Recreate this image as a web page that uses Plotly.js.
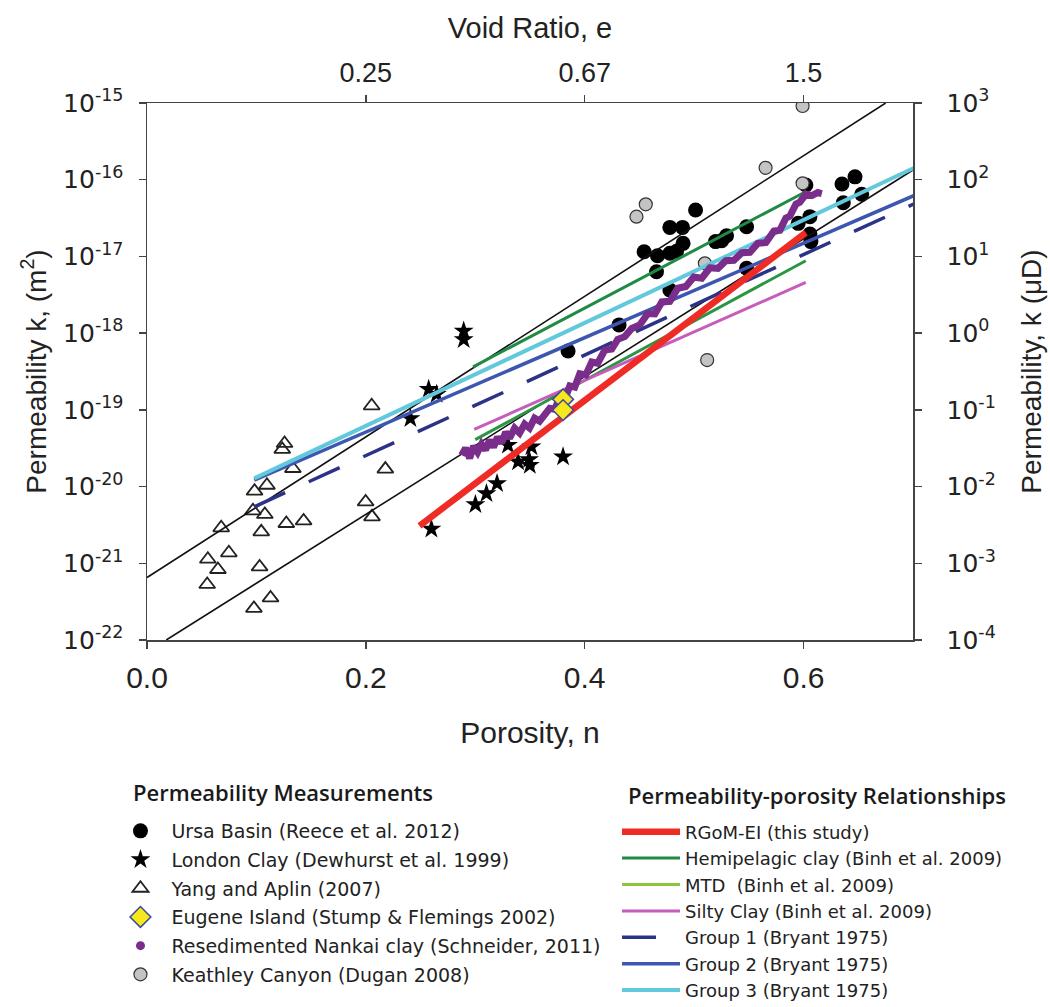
<!DOCTYPE html>
<html>
<head>
<meta charset="utf-8">
<script src="https://cdn.plot.ly/plotly-3.0.1.min.js"></script>
<style>html,body{margin:0;padding:0;background:#fff;}#chart{width:1050px;height:1007px;}</style>
</head>
<body>
<div id="chart"></div>
<script>
// ---------- Data (porosity n, permeability k in m^2) ----------
const ursaN = [0.3848,0.4314,0.4543,0.4665,0.4656,0.4778,0.4778,0.4894,0.4778,0.4839,0.4899,0.5013,0.5196,0.5251,0.5296,0.5479,0.5479,0.5951,0.6058,0.6058,0.6067,0.6351,0.6470,0.6363,0.6531,0.6021];
const ursaK = [5.85e-19,1.28e-18,1.15e-17,1.02e-17,6.32e-18,3.65e-18,2.39e-17,2.39e-17,1.10e-17,1.17e-17,1.48e-17,4.03e-17,1.56e-17,1.60e-17,1.86e-17,2.44e-17,7.00e-18,2.70e-17,3.30e-17,1.96e-17,1.56e-17,8.79e-17,1.09e-16,5.01e-17,6.45e-17,8.53e-17];

const londonN = [0.2894,0.2894,0.2574,0.2647,0.2407,0.2599,0.3001,0.3102,0.3199,0.3299,0.3391,0.3491,0.3498,0.3513,0.3802];
const londonK = [1.07e-18,8.28e-19,1.86e-19,1.60e-19,7.73e-20,2.79e-21,5.85e-21,8.13e-21,1.10e-20,3.47e-20,2.10e-20,2.26e-20,1.90e-20,3.30e-20,2.44e-20];

const yangN = [0.0678,0.0556,0.0748,0.0648,0.0550,0.0983,0.1096,0.0968,0.1077,0.1044,0.1273,0.1431,0.1029,0.1129,0.0977,0.1257,0.1236,0.1333,0.2053,0.2178,0.1998,0.2056];
const yangK = [2.90e-21,1.13e-21,1.37e-21,8.30e-22,5.30e-22,8.71e-21,1.04e-20,4.83e-21,4.33e-21,2.57e-21,3.30e-21,3.57e-21,8.97e-22,3.54e-22,2.58e-22,3.65e-20,3.05e-20,1.72e-20,1.13e-19,1.69e-20,6.32e-21,4.03e-21];

const eugeneN = [0.3802,0.3802];
const eugeneK = [1.37e-19,9.93e-20];

const nankaiN = [0.2875,0.2911,0.2949,0.2984,0.3021,0.3057,0.3094,0.3130,0.3167,0.3203,0.3240,0.3277,0.3313,0.3359,0.3405,0.3451,0.3496,0.3542,0.3588,0.3635,0.3680,0.3726,0.3772,0.3818,0.3864,0.3909,0.3955,0.4010,0.4064,0.4119,0.4183,0.4247,0.4302,0.4366,0.4430,0.4503,0.4576,0.4641,0.4705,0.4778,0.4851,0.4924,0.4997,0.5070,0.5144,0.5217,0.5290,0.5363,0.5436,0.5509,0.5582,0.5656,0.5729,0.5784,0.5838,0.5875,0.5930,0.5966,0.6021,0.6075,0.6130,0.6167];
const nankaiK = [2.57e-20,3.17e-20,2.35e-20,3.37e-20,2.81e-20,3.57e-20,2.99e-20,4.03e-20,3.27e-20,4.41e-20,3.68e-20,5.13e-20,4.28e-20,5.78e-20,4.98e-20,6.52e-20,5.78e-20,7.80e-20,7.13e-20,8.79e-20,1.05e-19,1.02e-19,1.45e-19,1.38e-19,2.05e-19,1.98e-19,2.95e-19,2.85e-19,4.20e-19,4.05e-19,6.00e-19,6.20e-19,8.30e-19,9.00e-19,1.15e-18,1.28e-18,1.80e-18,1.78e-18,2.55e-18,2.60e-18,3.85e-18,4.05e-18,5.40e-18,5.20e-18,7.10e-18,7.00e-18,8.80e-18,8.90e-18,1.12e-17,1.13e-17,1.48e-17,1.52e-17,2.15e-17,2.20e-17,3.15e-17,3.35e-17,4.80e-17,5.10e-17,6.50e-17,6.20e-17,6.80e-17,6.60e-17];

const keathleyN = [0.5991,0.5653,0.4558,0.4473,0.5991,0.5098,0.5119];
const keathleyK = [9.14e-16,1.43e-16,4.78e-17,3.30e-17,8.98e-17,8.13e-18,4.46e-19];

// Bounding lines (unlabelled, black)
const upperBoundN = [0, 0.675];
const upperBoundK = [6.53e-22, 1.0e-15];
const lowerBoundN = [0.0176, 0.70];
const lowerBoundK = [1.0e-22, 1.34e-16];

// Permeability-porosity relationships
const rgomN = [0.249, 0.602];        const rgomK = [3.08e-21, 2.04e-17];
const hemiN = [0.298, 0.601];        const hemiK = [3.64e-19, 6.86e-17];
const mtdN = [0.300, 0.602];         const mtdK = [4.10e-20, 8.79e-18];
const siltyN = [0.299, 0.602];       const siltyK = [5.56e-20, 4.59e-18];
const group1N = [0.098, 0.702];      const group1K = [5.45e-21, 4.92e-17];
const group2N = [0.098, 0.702];      const group2K = [1.21e-20, 6.31e-17];
const group3N = [0.098, 0.702];      const group3K = [1.28e-20, 1.45e-16];

// Axis ticks
const nTicks = [0, 0.2, 0.4, 0.6];
const nTickText = ['0.0', '0.2', '0.4', '0.6'];
const eTicks = [0.2, 0.4, 0.6];
const eTickText = ['0.25', '0.67', '1.5'];
const kExp = [-22, -21, -20, -19, -18, -17, -16, -15];
const uDExp = [-4, -3, -2, -1, 0, 1, 2, 3];

// Legend headings
const legendHeading1 = 'Permeability Measurements';
const legendHeading2 = 'Permeability-porosity Relationships';

// ---------- Styling ----------
const LEG = 'DejaVu Sans, Liberation Sans, sans-serif';
const AX = 'Liberation Sans, Arial, sans-serif';
const HEAD = 'Open Sans, Noto Sans, sans-serif';

const traces = [
  {x: ursaN, y: ursaK, mode: 'markers', name: 'Ursa Basin (Reece et al. 2012)', legend: 'legend', legendrank: 1, legendgroup: 'a1',
   marker: {symbol: 'circle', size: 15, color: '#000'}},
  {x: keathleyN, y: keathleyK, mode: 'markers', name: 'Keathley Canyon (Dugan 2008)', legend: 'legend', legendrank: 6, legendgroup: 'a6',
   marker: {symbol: 'circle', size: 13, color: '#c4c4c4', line: {color: '#333', width: 1.2}}},
  {x: yangN, y: yangK, mode: 'markers', name: 'Yang and Aplin (2007)', legend: 'legend', legendrank: 3, legendgroup: 'a3',
   marker: {symbol: 'triangle-up-open', size: 14, color: '#222', line: {width: 1.8}}},
  {x: londonN, y: londonK, mode: 'markers', name: 'London Clay (Dewhurst et al. 1999)', legend: 'legend', legendrank: 2, legendgroup: 'a2',
   marker: {symbol: 'star', size: 15, color: '#000'}},
  {x: upperBoundN, y: upperBoundK, mode: 'lines', showlegend: false, line: {color: '#111', width: 1.6}},
  {x: lowerBoundN, y: lowerBoundK, mode: 'lines', showlegend: false, line: {color: '#111', width: 1.6}},
  {x: group1N, y: group1K, mode: 'lines', name: 'Group 1 (Bryant 1975)', legend: 'legend2', legendrank: 5, legendgroup: 'b5',
   line: {color: '#2c3387', width: 3.5, dash: '34px,26px'}},
  {x: group2N, y: group2K, mode: 'lines', name: 'Group 2 (Bryant 1975)', legend: 'legend2', legendrank: 6, legendgroup: 'b6',
   line: {color: '#3d57b0', width: 3.5}},
  {x: group3N, y: group3K, mode: 'lines', name: 'Group 3 (Bryant 1975)', legend: 'legend2', legendrank: 7, legendgroup: 'b7',
   line: {color: '#62c8dc', width: 4}},
  {x: hemiN, y: hemiK, mode: 'lines', name: 'Hemipelagic clay (Binh et al. 2009)', legend: 'legend2', legendrank: 2, legendgroup: 'b2',
   line: {color: '#1f8b45', width: 3}},
  {x: mtdN, y: mtdK, mode: 'lines', showlegend: false, line: {color: '#2a9645', width: 3}},
  {x: [null], y: [null], mode: 'lines', name: 'MTD  (Binh et al. 2009)', legend: 'legend2', legendrank: 3, legendgroup: 'b3',
   line: {color: '#8cc63f', width: 3}},
  {x: siltyN, y: siltyK, mode: 'lines', name: 'Silty Clay (Binh et al. 2009)', legend: 'legend2', legendrank: 4, legendgroup: 'b4',
   line: {color: '#c65cbb', width: 3}},
  {x: rgomN, y: rgomK, mode: 'lines', name: 'RGoM-EI (this study)', legend: 'legend2', legendrank: 1, legendgroup: 'b1',
   line: {color: '#ee2b24', width: 6.5}},
  {x: nankaiN, y: nankaiK, mode: 'lines', showlegend: false, line: {color: '#7b2d8b', width: 7}},
  {x: [null], y: [null], mode: 'markers', name: 'Resedimented Nankai clay (Schneider, 2011)', legend: 'legend', legendrank: 5, legendgroup: 'a5',
   marker: {symbol: 'circle', size: 9, color: '#7b2d8b'}},
  {x: eugeneN, y: eugeneK, mode: 'markers', name: 'Eugene Island (Stump & Flemings 2002)', legend: 'legend', legendrank: 4, legendgroup: 'a4',
   marker: {symbol: 'diamond', size: 16, color: '#f7e81c', line: {color: '#3b4a9c', width: 1.5}}},
  // anchor for the secondary axes
  {x: [null], y: [null], xaxis: 'x2', yaxis: 'y2', mode: 'markers', showlegend: false, hoverinfo: 'skip'}
];

const axisLine = {showline: true, linecolor: '#444', linewidth: 1.5, ticks: 'outside', ticklen: 7, tickwidth: 1.5, tickcolor: '#444',
  showgrid: false, zeroline: false};

const layout = {
  width: 1050, height: 1007,
  margin: {l: 147, r: 137, t: 103, b: 367, autoexpand: false},
  paper_bgcolor: '#fff', plot_bgcolor: '#fff',
  showlegend: true,
  xaxis: Object.assign({}, axisLine, {
    range: [0, 0.7], tickvals: nTicks, ticktext: nTickText, tickmode: 'array',
    tickfont: {family: AX, size: 30, color: '#222'}, ticklabelstandoff: 3,
    title: {text: 'Porosity, n', font: {family: AX, size: 30, color: '#222'}, standoff: 29}
  }),
  xaxis2: Object.assign({}, axisLine, {
    overlaying: 'x', side: 'top', anchor: 'y', range: [0, 0.7], tickvals: eTicks, ticktext: eTickText, tickmode: 'array',
    tickfont: {family: AX, size: 27, color: '#222'}, ticklabelstandoff: 2,
    title: {text: 'Void Ratio, e', font: {family: AX, size: 29, color: '#222'}, standoff: 10}
  }),
  yaxis: Object.assign({}, axisLine, {
    type: 'log', range: [-22, -15], tickmode: 'array',
    tickvals: kExp.map(e => Math.pow(10, e)), ticktext: kExp.map(e => '10<sup>' + e + '</sup>'),
    tickfont: {family: LEG, size: 25, color: '#222'}, ticklabelstandoff: 10,
    title: {text: 'Permeability k, (m<sup>2</sup>)', font: {family: AX, size: 28, color: '#222'}, standoff: 8}
  }),
  yaxis2: Object.assign({}, axisLine, {
    type: 'log', range: [-4, 3], overlaying: 'y', side: 'right', anchor: 'x', tickmode: 'array',
    tickvals: uDExp.map(e => Math.pow(10, e)), ticktext: uDExp.map(e => '10<sup>' + e + '</sup>'),
    tickfont: {family: LEG, size: 25, color: '#222'}, ticklabelstandoff: 20,
    title: {text: 'Permeability, k (μD)', font: {family: AX, size: 28, color: '#222'}, standoff: 26}
  }),
  legend: {
    x: -0.049, y: -0.3203, xanchor: 'left', yanchor: 'top', bgcolor: 'rgba(0,0,0,0)',
    font: {family: LEG, size: 19, color: '#222'}, tracegroupgap: 1, itemwidth: 52
  },
  legend2: {
    x: 0.6136, y: -0.3231, xanchor: 'left', yanchor: 'top', bgcolor: 'rgba(0,0,0,0)',
    font: {family: LEG, size: 18, color: '#222'}, tracegroupgap: 0, itemwidth: 58
  },
  annotations: [
    {text: legendHeading1, xref: 'paper', yref: 'paper', x: -0.0209, y: -0.283, xanchor: 'left', yanchor: 'middle', showarrow: false,
     font: {family: HEAD, size: 22, color: '#1a1a1a', weight: 600}},
    {text: legendHeading2, xref: 'paper', yref: 'paper', x: 0.6253, y: -0.2886, xanchor: 'left', yanchor: 'middle', showarrow: false,
     font: {family: HEAD, size: 22, color: '#1a1a1a', weight: 600}}
  ]
};

Plotly.newPlot('chart', traces, layout, {staticPlot: true, displayModeBar: false});
</script>
</body>
</html>
